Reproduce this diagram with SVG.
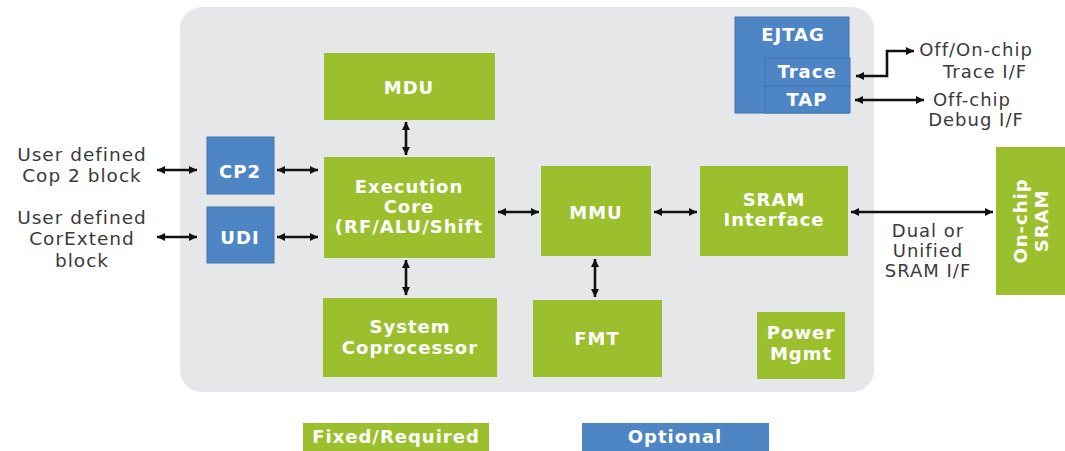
<svg xmlns="http://www.w3.org/2000/svg" width="1065" height="451" viewBox="0 0 1065 451">
<defs>
<style>
.g{fill:#9cc02d}
.b{fill:#4e86c5;stroke:#3f74b0;stroke-width:1}
.bl{font-family:"DejaVu Sans",Verdana,sans-serif;font-weight:bold;font-size:18px;fill:#ffffff;text-anchor:middle;letter-spacing:1px}
.ol{font-family:"DejaVu Sans",Verdana,sans-serif;font-size:18px;fill:#3a3a3a;text-anchor:middle;letter-spacing:1px}
.ll{font-size:18.5px}
.c{stroke:#111;stroke-width:2.6;fill:none;marker-start:url(#ah);marker-end:url(#ah)}
</style>
<marker id="ah" viewBox="0 0 10 10" refX="10" refY="5" markerWidth="9" markerHeight="8" orient="auto-start-reverse" markerUnits="userSpaceOnUse">
<path d="M0,0 L10,5 L0,10 z" fill="#111"/>
</marker>
</defs>
<rect width="1065" height="451" fill="#ffffff"/>
<rect id="chip" x="180" y="7" width="694" height="385" rx="22" fill="#e6e7e8"/>

<g id="mdu"><rect class="g" x="324" y="53" width="171" height="67"/><text class="bl" x="409" y="94">MDU</text></g>
<g id="exec"><rect class="g" x="324" y="157" width="171" height="101"/>
<text class="bl" x="409" y="193">Execution</text><text class="bl" x="409" y="213">Core</text><text class="bl" x="409" y="233">(RF/ALU/Shift</text></g>
<g id="syscop"><rect class="g" x="323" y="298" width="174" height="79"/>
<text class="bl" x="410" y="333">System</text><text class="bl" x="410" y="354">Coprocessor</text></g>
<g id="fmt"><rect class="g" x="533" y="300" width="129" height="77"/><text class="bl" x="597" y="345">FMT</text></g>
<g id="power"><rect class="g" x="757" y="312" width="88" height="67"/>
<text class="bl" x="801" y="339">Power</text><text class="bl" x="801" y="360">Mgmt</text></g>
<g id="mmu"><rect class="g" x="541" y="166" width="110" height="90"/><text class="bl" x="596" y="219">MMU</text></g>
<g id="sramif"><rect class="g" x="700" y="166" width="148" height="90"/>
<text class="bl" x="774" y="206">SRAM</text><text class="bl" x="774" y="226">Interface</text></g>
<g id="cp2"><rect class="b" x="207" y="137" width="67" height="57"/><text class="bl" x="240" y="178">CP2</text></g>
<g id="udi"><rect class="b" x="207" y="207" width="67" height="56"/><text class="bl" x="240" y="244">UDI</text></g>
<g id="ejtag"><rect class="b" x="735" y="17" width="114" height="96"/><text class="bl" x="793" y="41">EJTAG</text>
<rect class="b" x="765" y="58" width="85" height="28"/><text class="bl" x="807" y="78">Trace</text>
<rect class="b" x="765" y="86" width="85" height="27"/><text class="bl" x="807" y="106">TAP</text></g>
<g id="onchip"><rect class="g" x="996" y="147" width="69" height="148"/>
<g transform="translate(1032,221) rotate(-90)"><text class="bl" x="0" y="-5">On-chip</text><text class="bl" x="0" y="16">SRAM</text></g></g>
<g id="legend">
<rect class="g" x="303" y="423" width="186" height="30"/><text class="bl" x="396" y="443">Fixed/Required</text>
<rect fill="#4e86c5" x="582" y="423" width="187" height="30"/><text class="bl" x="675" y="443">Optional</text>
</g>

<g id="labels">
<text class="ol ll" x="82" y="161">User defined</text><text class="ol ll" x="82" y="182">Cop 2 block</text>
<text class="ol ll" x="82" y="224">User defined</text><text class="ol ll" x="82" y="245">CorExtend</text><text class="ol ll" x="82" y="267">block</text>
<text class="ol" x="976" y="56">Off/On-chip</text><text class="ol" x="985" y="78">Trace I/F</text>
<text class="ol" x="972" y="106">Off-chip</text><text class="ol" x="976" y="126">Debug I/F</text>
<text class="ol" x="928" y="237">Dual or</text><text class="ol" x="928" y="257">Unified</text><text class="ol" x="928" y="277">SRAM I/F</text>
</g>

<g id="connectors">
<line class="c" x1="157" y1="170" x2="197" y2="170"/>
<line class="c" x1="157" y1="237" x2="197" y2="237"/>
<line class="c" x1="277" y1="170" x2="318" y2="170"/>
<line class="c" x1="277" y1="237" x2="318" y2="237"/>
<line class="c" x1="406" y1="122" x2="406" y2="155"/>
<line class="c" x1="406" y1="260" x2="406" y2="295"/>
<line class="c" x1="498" y1="212" x2="539" y2="212"/>
<line class="c" x1="654" y1="212" x2="697" y2="212"/>
<line class="c" x1="595" y1="259" x2="595" y2="297"/>
<line class="c" x1="851" y1="212" x2="993" y2="212"/>
<path class="c" d="M856,76 H887 V51 H914"/>
<line class="c" x1="855" y1="100" x2="924" y2="100"/>
</g>
</svg>
